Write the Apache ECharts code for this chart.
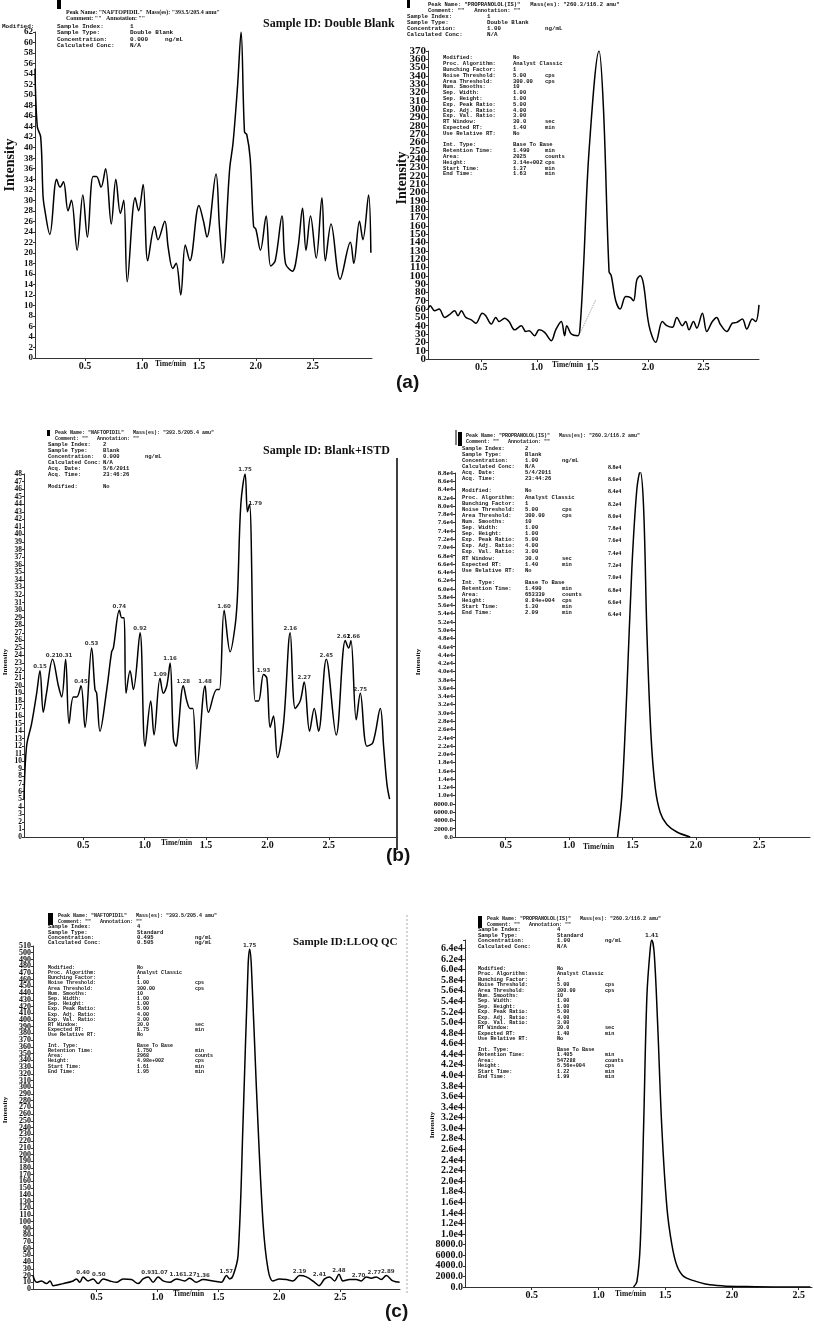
<!DOCTYPE html>
<html><head><meta charset="utf-8">
<script src="https://cdn.jsdelivr.net/npm/echarts@6/dist/echarts.min.js"></script>
<style>html,body{margin:0;padding:0;background:#fff}#c{width:814px;height:1329px}</style>
</head><body><div id="c"></div>
<script>
// ---- data: [time (min), intensity] ----
const aLeftData = [[0.06,55],[0.08,44],[0.11,42],[0.13,31],[0.14,29],[0.19,23.5],[0.25,34],[0.28,32.5],[0.31,33.5],[0.35,28],[0.38,30],[0.43,20.5],[0.48,31],[0.52,23],[0.57,34.5],[0.60,34.5],[0.64,32.5],[0.68,36],[0.73,25.5],[0.77,34],[0.81,27.5],[0.84,30],[0.87,14.5],[0.94,30.5],[0.97,28],[1.01,33],[1.05,18.5],[1.11,25],[1.14,22.5],[1.20,26],[1.23,21],[1.27,17],[1.30,18],[1.34,12],[1.38,21.5],[1.42,18.5],[1.50,29],[1.54,26],[1.57,23],[1.65,35],[1.68,25],[1.71,18],[1.77,36],[1.80,41],[1.84,52],[1.87,62],[1.90,43],[1.92,42.5],[1.95,38],[1.98,25],[2.00,24.5],[2.04,20.5],[2.09,27],[2.13,17.5],[2.17,18.5],[2.23,27],[2.26,18],[2.32,16.5],[2.37,21],[2.41,28.5],[2.44,20.5],[2.48,27],[2.53,19],[2.58,30.5],[2.61,18.5],[2.66,25.5],[2.74,15],[2.83,22],[2.86,18],[2.91,26],[2.94,22.5],[2.99,31],[3.01,20]];
const aRightData = [[0.02,60],[0.04,64],[0.08,58],[0.12,60],[0.17,50],[0.21,53],[0.26,58],[0.29,52],[0.32,58],[0.36,50],[0.41,47],[0.45,43],[0.51,55],[0.54,52],[0.59,42],[0.63,50],[0.66,45],[0.71,49],[0.75,45],[0.80,35],[0.86,40],[0.90,33],[0.93,34],[0.98,28],[1.02,35],[1.07,32],[1.13,22],[1.17,35],[1.22,45],[1.25,28],[1.27,40],[1.31,30],[1.37,28],[1.39,40],[1.42,110],[1.47,250],[1.56,370],[1.60,300],[1.65,105],[1.67,100],[1.71,70],[1.75,60],[1.80,75],[1.84,74],[1.87,70],[1.90,95],[1.93,100],[1.96,90],[2.01,40],[2.07,20],[2.13,45],[2.17,40],[2.22,38],[2.26,50],[2.31,40],[2.34,45],[2.37,35],[2.41,45],[2.44,37],[2.49,55],[2.53,33],[2.58,45],[2.62,50],[2.65,42],[2.71,33],[2.76,43],[2.80,44],[2.85,48],[2.89,36],[2.94,48],[2.97,45],[3.00,65]];
const aRightBaseline = [[1.39,31],[1.53,71]];
const bLeftData = [[0.017,5],[0.038,12],[0.079,15],[0.12,19],[0.147,22],[0.174,16.5],[0.2,19],[0.25,23.5],[0.297,20],[0.324,18.5],[0.356,23.5],[0.384,15],[0.419,18.5],[0.446,18.5],[0.481,20],[0.514,14.5],[0.568,25],[0.595,19.5],[0.609,19],[0.636,14],[0.691,19.5],[0.731,24.5],[0.745,25],[0.794,30],[0.813,29],[0.832,29],[0.848,19],[0.881,22],[0.908,19.5],[0.962,27],[1.003,12],[1.049,18],[1.076,13.5],[1.125,21],[1.152,19],[1.18,20],[1.207,23],[1.234,13],[1.256,12],[1.267,13],[1.315,20],[1.343,18],[1.37,17],[1.392,17],[1.424,9],[1.492,20],[1.519,16.5],[1.587,19.5],[1.609,19.5],[1.647,30],[1.696,24.5],[1.737,28],[1.756,32],[1.783,44],[1.818,48],[1.837,43],[1.854,44],[1.9,18],[1.927,18],[1.968,21.5],[1.995,21],[2.022,14.5],[2.049,16],[2.082,10.5],[2.131,15],[2.185,27],[2.226,17],[2.267,18],[2.299,20.5],[2.343,14],[2.381,17],[2.416,14],[2.479,23.5],[2.56,13.5],[2.634,26],[2.661,25],[2.68,26],[2.723,15.5],[2.756,19],[2.81,12],[2.859,12.5],[2.919,17],[2.946,12],[2.973,7],[2.995,5]];
const bLeftPeaks = [[0.147,22,'0.15'],[0.25,23.5,'0.21'],[0.356,23.5,'0.31'],[0.481,20,'0.45'],[0.568,25,'0.53'],[0.794,30,'0.74'],[0.962,27,'0.92'],[1.125,21,'1.09'],[1.207,23,'1.16'],[1.315,20,'1.28'],[1.492,20,'1.48'],[1.647,30,'1.60'],[1.818,48,'1.75'],[1.9,43.5,'1.79'],[1.968,21.5,'1.93'],[2.185,27,'2.16'],[2.299,20.5,'2.27'],[2.479,23.5,'2.45'],[2.62,26,'2.61'],[2.70,26,'2.66'],[2.756,19,'2.75']];
const bRightData = [[1.382,0],[1.416,10000],[1.455,35000],[1.495,65000],[1.534,84000],[1.56,88400],[1.587,80000],[1.613,50000],[1.645,25000],[1.679,12000],[1.718,6000],[1.771,3000],[1.85,1200],[1.955,0]];
const bRightPeaks = [[1.56,88400,'1.49']];
const bRightExtraLabels = ['8.8e4','8.6e4','8.4e4','8.2e4','8.0e4','7.8e4','7.6e4','7.4e4','7.2e4','7.0e4','6.8e4','6.6e4','6.4e4'];
const cLeftData = [[-0.02,20],[0.01,10],[0.05,12],[0.09,8],[0.12,12],[0.145,5],[0.227,8],[0.309,12],[0.336,15],[0.364,10],[0.391,18],[0.432,12],[0.473,15],[0.514,8],[0.555,15],[0.61,12],[0.664,10],[0.719,15],[0.787,14],[0.842,8],[0.883,15],[0.924,18],[0.965,10],[1.006,18],[1.047,12],[1.101,10],[1.156,15],[1.224,12],[1.265,16],[1.32,10],[1.375,14],[1.457,12],[1.525,10],[1.566,20],[1.593,15],[1.621,20],[1.662,50],[1.703,250],[1.744,480],[1.757,505],[1.771,480],[1.812,300],[1.866,100],[1.907,30],[1.948,12],[2.003,15],[2.058,14],[2.112,12],[2.167,20],[2.222,18],[2.29,10],[2.325,5],[2.372,15],[2.413,18],[2.454,12],[2.489,22],[2.522,12],[2.577,14],[2.631,14],[2.672,12],[2.713,18],[2.755,16],[2.795,18],[2.836,14],[2.877,20],[2.932,12],[2.987,10]];
const cLeftPeaks = [[0.391,18,'0.40'],[0.52,15,'0.50'],[0.924,18,'0.93'],[1.03,18,'1.07'],[1.156,15,'1.16'],[1.265,16,'1.27'],[1.375,14,'1.36'],[1.566,20,'1.57'],[1.757,505,'1.75'],[2.167,20,'2.19'],[2.33,15,'2.41'],[2.489,22,'2.48'],[2.65,14,'2.70'],[2.78,18,'2.77'],[2.89,20,'2.89']];
const cRightData = [[1.263,0],[1.288,1000],[1.313,8000],[1.338,30000],[1.363,55000],[1.388,64000],[1.40,65600],[1.418,63000],[1.443,50000],[1.475,30000],[1.513,15000],[1.55,8000],[1.588,4000],[1.638,2000],[1.713,1200],[1.813,500],[1.938,200],[2.063,100],[2.313,0],[2.588,0]];
const cRightPeaks = [[1.40,65600,'1.41']];
const xTickValues = [0.5,1.0,1.5,2.0,2.5];

const grids = [
 {left:35,top:32,width:337,height:326, xmin:0.06,xmax:3.02, ymax:62, yint:2, fs:9},
 {left:428,top:51,width:331,height:308, xmin:0.02,xmax:3.0, ymax:370, yint:10, fs:11},
 {left:24,top:474,width:373,height:363, xmin:0.017,xmax:3.055, ymax:48, yint:1, fs:7.5},
 {left:455,top:473,width:355,height:364, xmin:0.1,xmax:2.9, ymax:88000, yint:2000, fs:7, e4:true},
 {left:33,top:946,width:367,height:343, xmin:-0.02,xmax:2.99, ymax:510, yint:10, fs:8},
 {left:465,top:940,width:347,height:347, xmin:0,xmax:2.6, ymax:65600, yint:2000, fs:10, e4:true}
];
const serif = '"Liberation Serif","DejaVu Serif",serif';
const mono = '"Liberation Mono","DejaVu Sans Mono",monospace';
function e4fmt(v){ if(v<10000) return v.toFixed(1); return (v/10000).toFixed(1)+'e4'; }
function tickList(g,parity){ const out=[]; for(let k=parity;k*g.yint<=g.ymax+1e-9;k+=2) out.push(+(k*g.yint).toFixed(6)); return out; }
function yAxisDef(g,i,parity){
  return {type:'value',gridIndex:i,position:'left',min:0,max:g.ymax,interval:g.yint,splitLine:{show:false},
   axisLine:{show:parity===0,onZero:false,lineStyle:{color:'#333',width:1}},
   axisTick:{show:parity===0,length:2,lineStyle:{color:'#333'}},
   axisLabel:{customValues:tickList(g,parity),formatter:g.e4?e4fmt:(v=>String(v)),fontFamily:serif,fontWeight:'bold',fontSize:g.fs,color:'#111',margin:2,hideOverlap:false}};
}

const option = {
 animation:false, backgroundColor:'#fff',
 grid: grids.map(g=>({left:g.left,top:g.top,width:g.width,height:g.height,outerBoundsMode:'none',containLabel:false})),
 xAxis: grids.map((g,i)=>({type:'value',gridIndex:i,min:g.xmin,max:g.xmax,splitLine:{show:false},
   axisLine:{onZero:false,lineStyle:{color:'#333',width:1}},
   axisTick:{customValues:xTickValues,length:3,lineStyle:{color:'#333'}},
   axisLabel:{customValues:xTickValues,formatter:v=>v.toFixed(1),fontFamily:serif,fontWeight:'bold',fontSize:10,color:'#111',margin:3}})),
 yAxis: [...grids.map((g,i)=>yAxisDef(g,i,0)), ...grids.map((g,i)=>yAxisDef(g,i,1))],
 series: [
  ...[aLeftData,aRightData,bLeftData,bRightData,cLeftData,cRightData].map((d,i)=>({type:'line',xAxisIndex:i,yAxisIndex:i,data:d,smooth:0.35,symbol:'none',lineStyle:{color:'#000',width:1.5}})),
  {type:'line',xAxisIndex:1,yAxisIndex:1,data:aRightBaseline,symbol:'none',lineStyle:{color:'#999',width:1,type:'dotted'}},
  ...[[2,bLeftPeaks],[3,bRightPeaks],[4,cLeftPeaks],[5,cRightPeaks]].map(([i,d])=>({type:'scatter',xAxisIndex:i,yAxisIndex:i,data:d,symbolSize:0,
    label:{show:true,position:'top',distance:1,formatter:p=>p.value[2],fontSize:5.5,fontWeight:'bold',fontFamily:'"DejaVu Sans",sans-serif',color:'#000'}}))
 ],
 graphic: []
};

const G = option.graphic;
function txt(x,y,s,opt){ G.push({type:'text',left:x,top:y,style:Object.assign({text:s,fontSize:6,fontFamily:mono,fontWeight:'bold',fill:'#111',lineHeight:6},opt||{})}); }
function block(x1,x2,x3,y,rows,lh,fs){
  const o={lineHeight:lh,fontSize:fs};
  txt(x1,y,rows.map(r=>r[0]).join('\n'),o);
  txt(x2,y,rows.map(r=>r[1]).join('\n'),o);
  txt(x3,y,rows.map(r=>r[2]||'').join('\n'),o);
}
function bar(x,y,w,h){ G.push({type:'rect',shape:{x:x,y:y,width:w,height:h},style:{fill:'#000'}}); }
function vtext(x,y,s,fs){ G.push({type:'text',x:x,y:y,rotation:Math.PI/2,style:{text:s,fontSize:fs,fontFamily:serif,fontWeight:'bold',fill:'#111',align:'center',verticalAlign:'middle'}}); }
function timeLbl(x,y){ txt(x,y,'Time/min',{fontFamily:serif,fontSize:7.5}); }
function title(x,y,s,fs){ txt(x,y,s,{fontFamily:serif,fontSize:fs,fontWeight:'bold',lineHeight:fs+2}); }
function panelLbl(x,y,s){ txt(x,y,s,{fontFamily:'"Liberation Sans",Arial,sans-serif',fontSize:19,fontWeight:'bold',lineHeight:22}); }

const procRows = (noise,rt,ret,area,height,st,et)=>[
 ['Modified:','No',''],['Proc. Algorithm:','Analyst Classic',''],['Bunching Factor:','1',''],['Noise Threshold:',noise,'cps'],
 ['Area Threshold:','300.00','cps'],['Num. Smooths:','10',''],['Sep. Width:','1.00',''],['Sep. Height:','1.00',''],
 ['Exp. Peak Ratio:','5.00',''],['Exp. Adj. Ratio:','4.00',''],['Exp. Val. Ratio:','3.00',''],['RT Window:','30.0','sec'],
 ['Expected RT:',rt,'min'],['Use Relative RT:','No',''],['','',''],['Int. Type:','Base To Base',''],['Retention Time:',ret,'min'],
 ['Area:',area,'counts'],['Height:',height,'cps'],['Start Time:',st,'min'],['End Time:',et,'min']];

// (a) left
bar(57,0,4,9);
txt(66,9,'Peak Name: "NAFTOPIDIL"  Mass(es): "393.5/205.4 amu"',{fontFamily:serif,fontSize:6});
txt(66,15,'Comment: ""   Annotation: ""',{fontFamily:serif,fontSize:6});
txt(2,23,'Modified:',{fontSize:6});
block(57,130,165,23,[['Sample Index:','1',''],['Sample Type:','Double Blank',''],['Concentration:','0.000','ng/mL'],['Calculated Conc:','N/A','']],6.5,6);
title(263,17,'Sample ID: Double Blank',12);
vtext(10,165,'Intensity',14);
timeLbl(155,360);
// (a) right
bar(407,0,3,8);
txt(428,2,'Peak Name: "PROPRANOLOL(IS)"   Mass(es): "260.3/116.2 amu"',{fontSize:5.5});
txt(428,8,'Comment: ""   Annotation: ""',{fontSize:5.5});
block(407,487,545,14,[['Sample Index:','1',''],['Sample Type:','Double Blank',''],['Concentration:','1.00','ng/mL'],['Calculated Conc:','N/A','']],5.7,5.8);
block(443,513,545,55,procRows('5.00','1.40','1.490','2025','3.14e+002','1.37','1.63'),5.8,5.5);
vtext(402,178,'Intensity',14);
timeLbl(552,361);
panelLbl(396,372,'(a)');
// (b) left
bar(47,430,3,6);
txt(55,430,'Peak Name: "NAFTOPIDIL"   Mass(es): "393.5/205.4 amu"',{fontSize:5});
txt(55,436,'Comment: ""   Annotation: ""',{fontSize:5});
block(48,103,145,442,[['Sample Index:','2',''],['Sample Type:','Blank',''],['Concentration:','0.000','ng/mL'],['Calculated Conc:','N/A',''],['Acq. Date:','5/6/2011',''],['Acq. Time:','23:46:26',''],['',''],['Modified:','No','']],6,5.5);
title(263,444,'Sample ID: Blank+ISTD',12);
vtext(5,662,'Intensity',7);
timeLbl(161,839);
G.push({type:'line',shape:{x1:397,y1:458,x2:397,y2:850},style:{stroke:'#000',lineWidth:1.5}});
// (b) right
bar(458,432,4,14); G.push({type:'line',shape:{x1:456,y1:430,x2:456,y2:445},style:{stroke:'#000',lineWidth:1}});
txt(466,433,'Peak Name: "PROPRANOLOL(IS)"   Mass(es): "260.3/116.2 amu"',{fontSize:5});
txt(466,439,'Comment: ""   Annotation: ""',{fontSize:5});
block(462,525,562,446,[['Sample Index:','2',''],['Sample Type:','Blank',''],['Concentration:','1.00','ng/mL'],['Calculated Conc:','N/A',''],['Acq. Date:','5/4/2011',''],['Acq. Time:','23:44:26','']],6,5.5);
block(462,525,562,488,procRows('5.00','1.40','1.490','653339','8.84e+004','1.30','2.09'),6.1,5.5);
txt(608,461,bRightExtraLabels.join('\n'),{fontFamily:serif,fontSize:6,lineHeight:12.3});
vtext(418,662,'Intensity',7);
timeLbl(583,843);
panelLbl(386,845,'(b)');
// (c) left
bar(48,913,5,12);
txt(58,913,'Peak Name: "NAFTOPIDIL"   Mass(es): "393.5/205.4 amu"',{fontSize:5});
txt(58,919,'Comment: ""   Annotation: ""',{fontSize:5});
block(48,137,195,924,[['Sample Index:','4',''],['Sample Type:','Standard',''],['Concentration:','0.495','ng/mL'],['Calculated Conc:','0.505','ng/mL']],5.3,5.5);
block(48,137,195,965,procRows('1.00','1.75','1.750','2968','4.98e+002','1.61','1.95'),5.2,5);
title(293,936,'Sample ID:LLOQ QC',11);
vtext(5,1110,'Intensity',7);
timeLbl(173,1290);
panelLbl(385,1301,'(c)');
// (c) right
bar(478,916,4,12);
txt(487,916,'Peak Name: "PROPRANOLOL(IS)"   Mass(es): "260.3/116.2 amu"',{fontSize:5});
txt(487,922,'Comment: ""   Annotation: ""',{fontSize:5});
block(478,557,605,927,[['Sample Index:','4',''],['Sample Type:','Standard',''],['Concentration:','1.00','ng/mL'],['Calculated Conc:','N/A','']],5.4,5.5);
block(478,557,605,966,procRows('5.00','1.40','1.405','547288','6.56e+004','1.22','1.99'),5.4,5.2);
vtext(432,1125,'Intensity',7);
timeLbl(615,1290);
G.push({type:'line',shape:{x1:407,y1:915,x2:407,y2:1295},style:{stroke:'#aaa',lineWidth:1,lineDash:[2,2]}});

echarts.init(document.getElementById('c')).setOption(option);
</script></body></html>
